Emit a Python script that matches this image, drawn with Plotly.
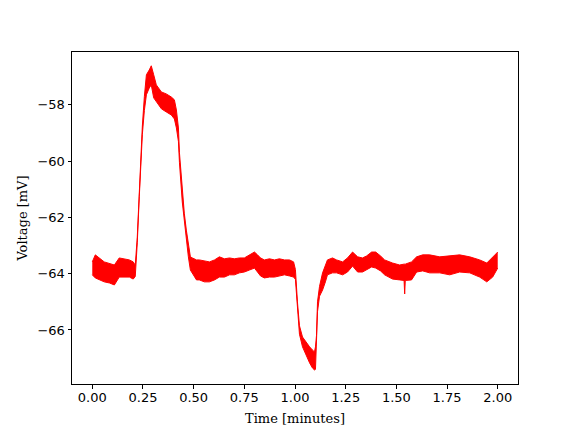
import plotly.graph_objects as go

# Envelope of the noisy voltage trace (time in minutes, mV)
time_min = [0.000, 0.015, 0.059, 0.085, 0.109, 0.133, 0.183, 0.202, 0.212,
            0.222, 0.232, 0.240, 0.247, 0.257, 0.267, 0.281, 0.291, 0.303, 0.316,
            0.341, 0.365, 0.390, 0.405, 0.415, 0.425, 0.430, 0.444, 0.454, 0.464,
            0.474, 0.484, 0.494, 0.514, 0.528, 0.553, 0.578, 0.603, 0.627, 0.652,
            0.677, 0.701, 0.726, 0.750, 0.775, 0.800, 0.815, 0.830, 0.849, 0.874,
            0.899, 0.923, 0.948, 0.973, 0.993, 1.002, 1.012, 1.022, 1.037, 1.057,
            1.072, 1.086, 1.096, 1.101, 1.106, 1.111, 1.121, 1.136, 1.150, 1.160,
            1.185, 1.205, 1.235, 1.259, 1.284, 1.309, 1.333, 1.353, 1.378, 1.398,
            1.422, 1.442, 1.481, 1.516, 1.538, 1.541, 1.544, 1.575, 1.600, 1.630,
            1.664, 1.714, 1.763, 1.812, 1.862, 1.911, 1.946, 1.975, 2.000]

v_upper = [-63.58, -63.33, -63.58, -63.65, -63.69, -63.44, -63.51, -63.58, -63.70,
           -62.70, -61.00, -59.85, -58.75, -57.70, -56.93, -56.76, -56.61, -56.93, -57.29,
           -57.54, -57.61, -57.72, -57.82, -58.18, -58.82, -59.70, -61.15, -61.85, -62.45,
           -63.00, -63.40, -63.44, -63.51, -63.51, -63.55, -63.58, -63.51, -63.40, -63.47,
           -63.44, -63.47, -63.44, -63.44, -63.33, -63.23, -63.33, -63.44, -63.51, -63.47,
           -63.51, -63.47, -63.51, -63.51, -63.58, -63.85, -65.00, -65.85, -66.25, -66.46,
           -66.60, -66.71, -66.78, -66.60, -66.20, -65.00, -64.45, -63.97, -63.69, -63.51,
           -63.44, -63.51, -63.58, -63.44, -63.23, -63.40, -63.44, -63.37, -63.23, -63.23,
           -63.37, -63.51, -63.62, -63.69, -63.66, -63.66, -63.66, -63.58, -63.40, -63.33,
           -63.33, -63.40, -63.37, -63.33, -63.40, -63.51, -63.62, -63.40, -63.23]

v_lower = [-64.04, -64.15, -64.29, -64.33, -64.40, -64.12, -64.12, -64.19, -64.10,
           -62.90, -61.25, -60.10, -59.05, -58.20, -57.64, -57.40, -57.29, -57.75, -57.89,
           -58.14, -58.25, -58.36, -58.50, -58.82, -59.30, -60.05, -61.45, -62.15, -62.80,
           -63.40, -63.87, -64.00, -64.22, -64.22, -64.29, -64.29, -64.22, -64.12, -64.12,
           -64.04, -64.04, -63.97, -63.94, -63.87, -63.80, -63.94, -64.08, -64.15, -64.12,
           -64.12, -64.08, -64.04, -64.08, -64.12, -64.20, -65.30, -66.15, -66.60, -66.96,
           -67.17, -67.35, -67.42, -67.40, -66.55, -65.35, -64.80, -64.58, -64.29, -64.04,
           -63.97, -63.97, -64.04, -63.94, -63.73, -63.94, -63.94, -63.87, -63.76, -63.80,
           -63.90, -64.04, -64.19, -64.22, -64.24, -64.72, -64.24, -64.22, -63.94, -63.90,
           -63.97, -63.97, -64.04, -63.94, -63.97, -64.12, -64.29, -64.12, -63.80]

x_ticks = [0.0, 0.25, 0.5, 0.75, 1.0, 1.25, 1.5, 1.75, 2.0]
y_ticks = [-66, -64, -62, -60, -58]

fig = go.Figure()
fig.add_trace(go.Scatter(x=time_min, y=v_upper, mode="lines",
                         line=dict(color="red", width=1.0), showlegend=False,
                         hoverinfo="skip"))
fig.add_trace(go.Scatter(x=time_min, y=v_lower, mode="lines",
                         line=dict(color="red", width=1.0), fill="tonexty",
                         fillcolor="red", showlegend=False))

axis_common = dict(showline=True, linecolor="black", linewidth=1, mirror=True,
                   ticks="outside", ticklen=3.5, tickwidth=1, tickcolor="black",
                   showgrid=False, zeroline=False, automargin=False,
                   tickfont=dict(family="DejaVu Sans", size=13, color="black"))

fig.update_xaxes(range=[-0.1, 2.1], tickvals=x_ticks, tickformat=".2f",
                 ticklabelstandoff=-2,
                 title=dict(text="Time [minutes]",
                            font=dict(family="DejaVu Serif", size=13, color="black"),
                            standoff=9),
                 **axis_common)
fig.update_yaxes(range=[-67.92, -56.12], tickvals=y_ticks,
                 title=dict(text="Voltage [mV]",
                            font=dict(family="DejaVu Serif", size=13, color="black"),
                            standoff=6),
                 **axis_common)

# page body has an 8px default margin, so offset the plot area accordingly
fig.update_layout(width=576, height=432, plot_bgcolor="white", paper_bgcolor="white",
                  margin=dict(l=64, r=66, t=44, b=56))

fig.write_html("out.html")
